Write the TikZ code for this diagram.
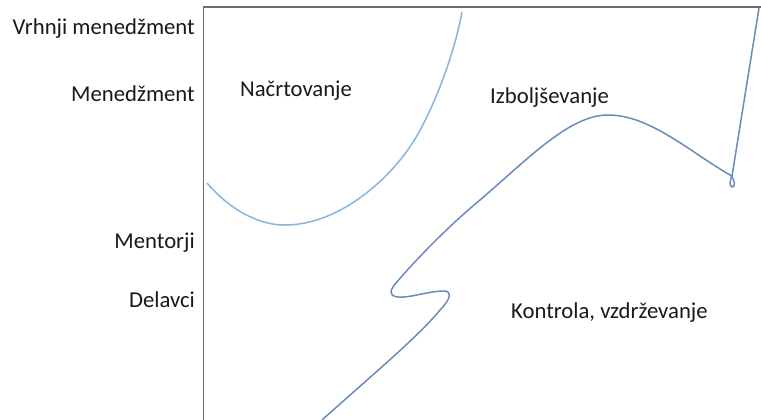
\documentclass[tikz,border=0pt]{standalone}
\usepackage{fontspec}
\setmainfont{Carlito}
\definecolor{axisgray}{RGB}{110,110,110}
\definecolor{lightblue}{RGB}{135,180,225}
\definecolor{darkblue}{RGB}{105,140,185}
\definecolor{txt}{RGB}{25,25,25}
\begin{document}
\begin{tikzpicture}[x=1pt,y=-1pt,
  lbl/.style={font=\fontsize{22.7}{25}\selectfont, text=txt, inner sep=0pt},
  axisline/.style={draw=axisgray, line width=1.5pt},
  curveA/.style={draw=lightblue, line width=1.5pt},
  curveB/.style={draw=darkblue, line width=1.5pt, line join=round}]
\useasboundingbox (0,0) rectangle (761,420);
% axes
\coordinate (o) at (203.5,420);
\coordinate (c) at (203.5,7);
\coordinate (r) at (761,7);
\draw[axisline] (o) -- (c) -- (r);
% left labels
\node[lbl, anchor=base east] (l1) at (195,35) {Vrhnji menedžment};
\node[lbl, anchor=base east] (l2) at (195,102) {Menedžment};
\node[lbl, anchor=base east] (l3) at (195,248) {Mentorji};
\node[lbl, anchor=base east] (l4) at (195,307) {Delavci};
% region labels
\node[lbl, anchor=base west] (t1) at (240,97) {Načrtovanje};
\node[lbl, anchor=base west] (t2) at (490,103) {Izboljševanje};
\node[lbl, anchor=base west] (t3) at (511,318) {Kontrola, vzdrževanje};
% light blue curve
\draw[curveA] (207,183) .. controls (230,210) and (260,226) .. (287,225)
  .. controls (340,224) and (393,178) .. (418,134)
  .. controls (438,98) and (455,50) .. (462,12);
% dark blue curve
\draw[curveB] (322,420) .. controls (370,377) and (420,335) .. (440,310)
  .. controls (452,298) and (452,290) .. (442,291)
  .. controls (425,292) and (410,298) .. (398,297)
  .. controls (388,296) and (390,290) .. (396,283)
  .. controls (420,255) and (450,225) .. (480,200)
  .. controls (530,157) and (570,115) .. (608,115)
  .. controls (650,115) and (690,152) .. (730,175)
  .. controls (736,180) and (735,188) .. (732,187)
  .. controls (729,186) and (730,180) .. (732,176)
  -- (759,8);
\end{tikzpicture}
\end{document}
